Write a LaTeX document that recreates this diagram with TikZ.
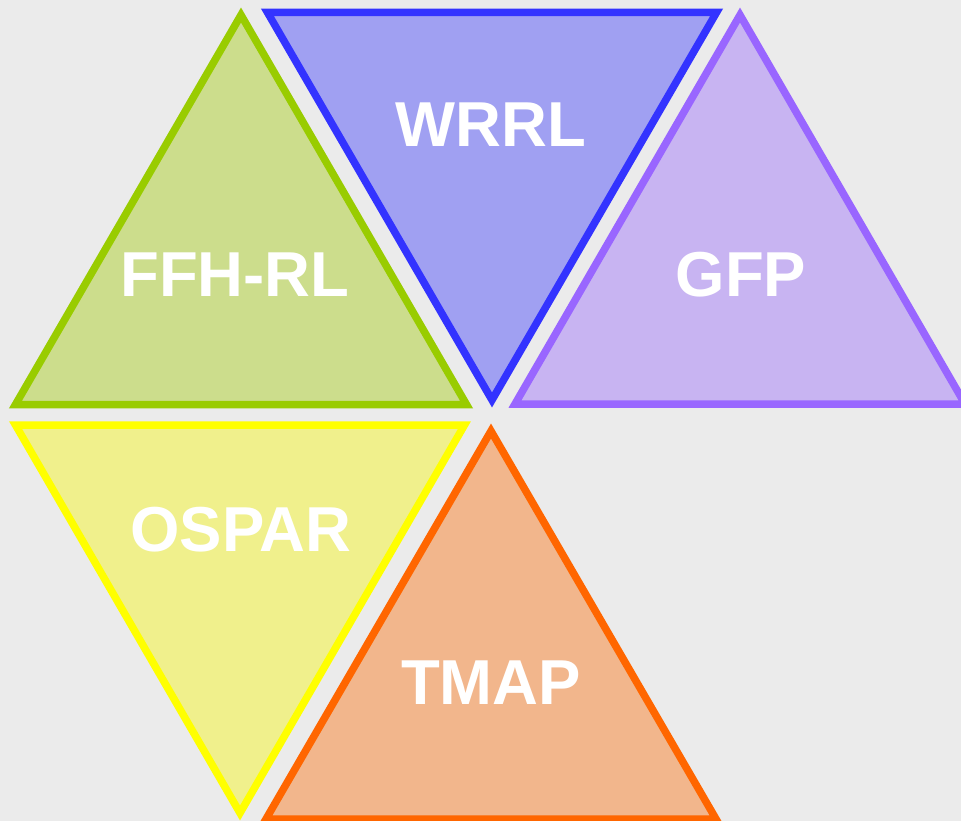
\documentclass[tikz,border=0pt]{standalone}
\usepackage{fontspec}
\setmainfont{Liberation Sans}
\definecolor{bg}{HTML}{EBEBEB}
\definecolor{greenline}{HTML}{99CC00}\definecolor{greenfill}{HTML}{CCDD8C}
\definecolor{blueline}{HTML}{3333FF}\definecolor{bluefill}{HTML}{A0A0F2}
\definecolor{purpleline}{HTML}{9966FF}\definecolor{purplefill}{HTML}{C8B4F2}
\definecolor{yellowline}{HTML}{FFFF00}\definecolor{yellowfill}{HTML}{F0F08C}
\definecolor{orangeline}{HTML}{FF6600}\definecolor{orangefill}{HTML}{F2B68C}
\begin{document}
\begin{tikzpicture}[x=1pt,y=-1pt,
  tri/.style={line width=7.5pt,line join=miter,miter limit=10},
  label/.style={text=white,font=\fontsize{63.5}{64}\selectfont\bfseries,inner sep=0pt}]
\useasboundingbox (0,0) rectangle (961,821);
\fill[bg] (0,0) rectangle (961,821);
\clip (0,0) rectangle (961,821);
% upright and inverted triangles of the hexagon
\draw[tri,draw=greenline,fill=greenfill] (241,15) -- (466.5,404.5) -- (15.5,404.5) -- cycle;
\draw[tri,draw=blueline,fill=bluefill] (267.5,12.5) -- (716.5,12.5) -- (492,400) -- cycle;
\draw[tri,draw=purpleline,fill=purplefill] (740,15) -- (965,404) -- (515,404) -- cycle;
\draw[tri,draw=yellowline,fill=yellowfill] (15.5,425) -- (464.5,425) -- (240,813) -- cycle;
\draw[tri,draw=orangeline,fill=orangefill] (491,431) -- (716,819) -- (266,819) -- cycle;
% labels
\node[label] (wrrl) at (491,125) {WRRL};
\node[label] (ffh) at (235,275) {FFH-RL};
\node[label] (gfp) at (741,275) {GFP};
\node[label] (ospar) at (241,530) {OSPAR};
\node[label] (tmap) at (491,683) {TMAP};
\end{tikzpicture}
\end{document}
